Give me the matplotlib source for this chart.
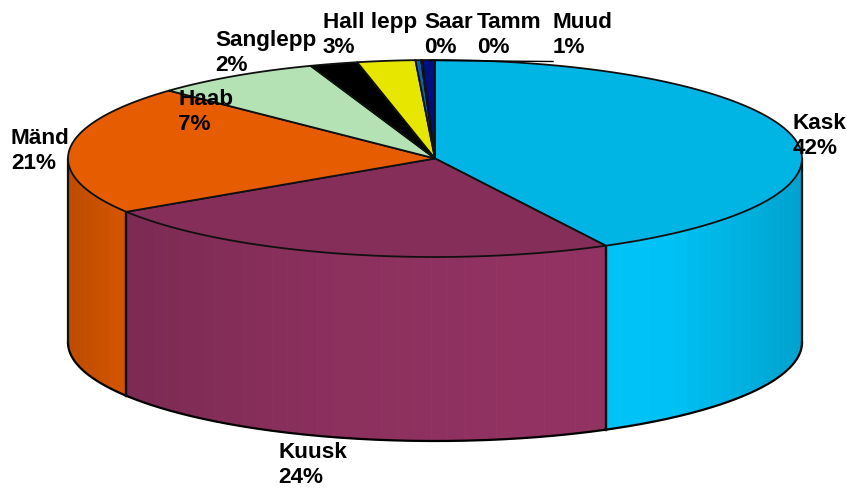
import numpy as np
import matplotlib
matplotlib.use('Agg')
import matplotlib.pyplot as plt

# Andmed (loetud pildilt)
nimed = ['Kask', 'Kuusk', 'Mänd', 'Haab', 'Sanglepp', 'Hall lepp', 'Saar', 'Tamm', 'Muud']
osakaal = [42.3, 23.6, 21.2, 7.4, 2.1, 2.55, 0.25, 0.05, 0.55]
varvid = ['#00B4E4', '#862E5A', '#E65C00', '#B5E2B5', '#000000', '#E6E600', '#0F5FB0', '#000000', '#001080']

# sildi vasak serv ja kahe rea keskkoht (pikslites)
silt_x = [793, 278, 11, 178, 215, 323, 424, 477, 553]
silt_y = [136, 465, 151, 112, 53, 35, 35, 35, 35]

# silindri geomeetria
cx, cy = 435, 158.5
rx, ry = 367, 98.5
sugavus = 184


def ring(t):
    return cx + rx*np.sin(t), cy - ry*np.cos(t)


def varjund(t):
    # kylgpinna heledus muutub vasakult paremale
    return np.interp(np.sin(t), [-1, -0.85, -0.3, 0.3, 0.65, 1], [0.82, 0.92, 1.04, 1.09, 1.07, 0.9])


fig = plt.figure(figsize=(8.47, 4.88), dpi=100)
ax = fig.add_axes([0, 0, 1, 1])
ax.set_xlim(0, 847)
ax.set_ylim(488, 0)
ax.axis('off')

piirid = np.radians(np.concatenate(([0], np.cumsum(osakaal))) / sum(osakaal) * 360)

# kylgpind, ainult esiosa on nahtav
for i in range(len(osakaal)):
    a = max(piirid[i], np.pi/2)
    b = min(piirid[i+1], 3*np.pi/2)
    if b <= a:
        continue
    n = max(int((b-a)/np.radians(2.5)), 1)
    t = np.linspace(a, b, n+1)
    rgb = np.array(matplotlib.colors.to_rgb(varvid[i]))
    for j in range(n):
        tt = np.linspace(t[j], t[j+1], 5)
        x, y = ring(tt)
        v = np.clip(rgb*varjund(tt.mean()), 0, 1)
        ax.fill(np.r_[x, x[::-1]], np.r_[y, y[::-1]+sugavus], color=v, lw=0.6, zorder=1)
    x, y = ring(np.linspace(a, b, 150))
    ax.plot(x, y+sugavus, color='black', lw=1.6, zorder=2)
    for ots in (a, b):
        x, y = ring(ots)
        ax.plot([x, x], [y, y+sugavus], color='#101010', lw=1.6, zorder=2)

# pealispind
for i in range(len(osakaal)):
    t = np.linspace(piirid[i], piirid[i+1], 200)
    x, y = ring(t)
    ax.fill(np.r_[cx, x], np.r_[cy, y], facecolor=varvid[i], edgecolor='#101010',
            lw=1.3, joinstyle='round', zorder=3)

# Muud sildi juhtjoon
ax.plot([430, 553], [60.5, 61.5], color='black', lw=1.0, zorder=4)

for nimi, v, x, y in zip(nimed, osakaal, silt_x, silt_y):
    ax.text(x, y, f'{nimi}\n{v:.0f}%', ha='left', va='center', fontsize=16.2,
            fontweight='bold', family='Liberation Sans', color='black',
            linespacing=1.3, zorder=5)

plt.savefig('out.png', dpi=100)
